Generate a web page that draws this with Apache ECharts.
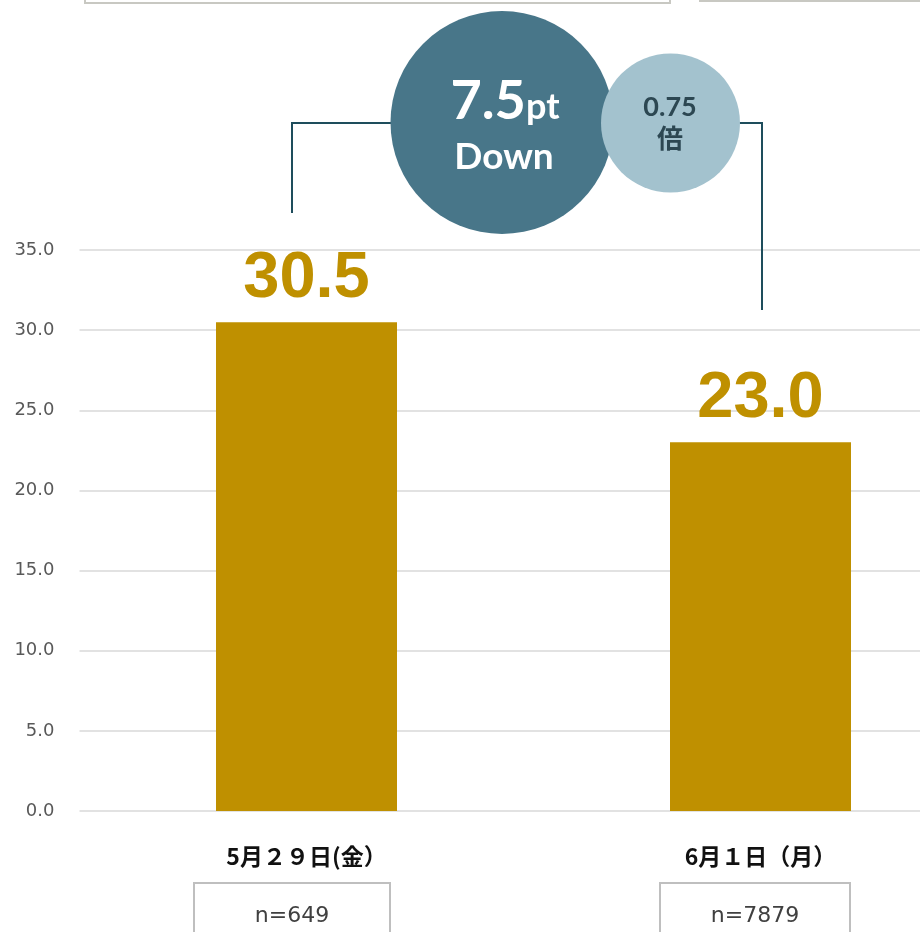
<!DOCTYPE html>
<html>
<head>
<meta charset="utf-8">
<script src="https://cdn.jsdelivr.net/npm/echarts@6/dist/echarts.min.js"></script>
<style>
html,body{margin:0;padding:0;background:#fff;overflow:hidden;width:920px;height:932px;}
#chart{width:990px;height:932px;}
</style>
</head>
<body>
<div id="chart"></div>
<script>
var categories = ['5月２９日(金）', '6月１日（月）'];
var values = [30.5, 23.0];
var sampleSizes = ['n=649', 'n=7879'];
var yTicks = [0, 5, 10, 15, 20, 25, 30, 35];
var diffMain = '7.5';
var diffUnit = 'pt';
var diffWord = 'Down';
var ratioValue = '0.75';
var ratioUnit = '倍';

var gold = '#BF9000';
var lineColor = '#1E4D5C';

var chart = echarts.init(document.getElementById('chart'), null, {renderer: 'canvas'});

var option = {
  animation: false,
  backgroundColor: '#ffffff',
  grid: {left: 79.5, top: 250, right: 2.5, bottom: 121, containLabel: false},
  xAxis: {
    type: 'category',
    data: categories,
    axisLine: {show: false},
    axisTick: {show: false},
    axisLabel: {
      margin: 34,
      fontSize: 23,
      fontWeight: 'bold',
      color: '#111111',
      fontFamily: '"Noto Sans CJK JP", sans-serif'
    }
  },
  yAxis: {
    type: 'value',
    min: yTicks[0],
    max: yTicks[yTicks.length - 1],
    interval: yTicks[1] - yTicks[0],
    axisLine: {show: false},
    axisTick: {show: false},
    splitLine: {lineStyle: {color: '#D9D9D9', width: 1.5}},
    axisLabel: {
      margin: 25,
      fontSize: 18,
      color: '#595959',
      fontFamily: '"DejaVu Sans", sans-serif',
      formatter: function (v) { return v.toFixed(1); }
    }
  },
  series: [{
    type: 'bar',
    data: values,
    barWidth: 181,
    itemStyle: {color: gold},
    label: {
      show: true,
      position: 'top',
      distance: 11,
      fontSize: 65,
      fontWeight: 'bold',
      color: gold,
      fontFamily: '"Liberation Sans", Arial, sans-serif',
      formatter: function (p) { return p.value.toFixed(1); }
    }
  }]
};
chart.setOption(option);

// annotations
var graphics = [];
// top partial boxes
graphics.push({type: 'rect', shape: {x: 85, y: -40, width: 585, height: 43}, style: {fill: '#fff', stroke: '#C8C8C2', lineWidth: 2}});
graphics.push({type: 'rect', shape: {x: 700, y: -40, width: 300, height: 41}, style: {fill: '#fff', stroke: '#C8C8C2', lineWidth: 2}});
// connector lines
graphics.push({type: 'polyline', shape: {points: [[292, 213], [292, 123], [400, 123]]}, style: {stroke: lineColor, lineWidth: 2, fill: null}});
graphics.push({type: 'polyline', shape: {points: [[730, 123], [762, 123], [762, 310]]}, style: {stroke: lineColor, lineWidth: 2, fill: null}});
// circles
graphics.push({type: 'circle', shape: {cx: 502, cy: 122.5, r: 111.5}, style: {fill: '#487689'}});
graphics.push({type: 'circle', shape: {cx: 670.5, cy: 123, r: 69.5}, style: {fill: '#A3C2CE'}});
// big circle text
graphics.push({
  type: 'text', x: 505, y: 102,
  style: {
    text: '{a|' + diffMain + '}{b|' + diffUnit + '}',
    align: 'center', verticalAlign: 'middle',
    rich: {
      a: {fontSize: 54, fontWeight: 'bold', fill: '#ffffff', fontFamily: 'Lato, "Open Sans", sans-serif', verticalAlign: 'bottom'},
      b: {fontSize: 36, fontWeight: 'bold', fill: '#ffffff', fontFamily: 'Lato, "Open Sans", sans-serif', verticalAlign: 'bottom', padding: [0, 0, 4, 0]}
    }
  }
});
graphics.push({
  type: 'text', x: 504, y: 157,
  style: {text: diffWord, align: 'center', verticalAlign: 'middle', fontSize: 37, fontWeight: 'bold', fill: '#ffffff', fontFamily: 'Lato, "Open Sans", sans-serif'}
});
// small circle text
graphics.push({
  type: 'text', x: 670, y: 107,
  style: {text: ratioValue, align: 'center', verticalAlign: 'middle', fontSize: 27, fontWeight: 'bold', fill: '#2C4752', fontFamily: 'Lato, "Open Sans", sans-serif'}
});
graphics.push({
  type: 'text', x: 670, y: 138,
  style: {text: ratioUnit, align: 'center', verticalAlign: 'middle', fontSize: 26, fontWeight: 'bold', fill: '#2C4752', fontFamily: '"Noto Sans CJK JP", sans-serif'}
});
// n boxes
var boxes = [{x: 194, w: 196}, {x: 660, w: 190}];
for (var i = 0; i < sampleSizes.length; i++) {
  graphics.push({type: 'rect', shape: {x: boxes[i].x, y: 883, width: boxes[i].w, height: 80}, style: {fill: '#fff', stroke: '#BFBFBF', lineWidth: 2}});
  graphics.push({
    type: 'text', x: boxes[i].x + boxes[i].w / 2, y: 916,
    style: {text: sampleSizes[i], align: 'center', verticalAlign: 'middle', fontSize: 22, fill: '#404040', fontFamily: '"DejaVu Sans", sans-serif'}
  });
}
chart.setOption({graphic: graphics});
</script>
</body>
</html>
